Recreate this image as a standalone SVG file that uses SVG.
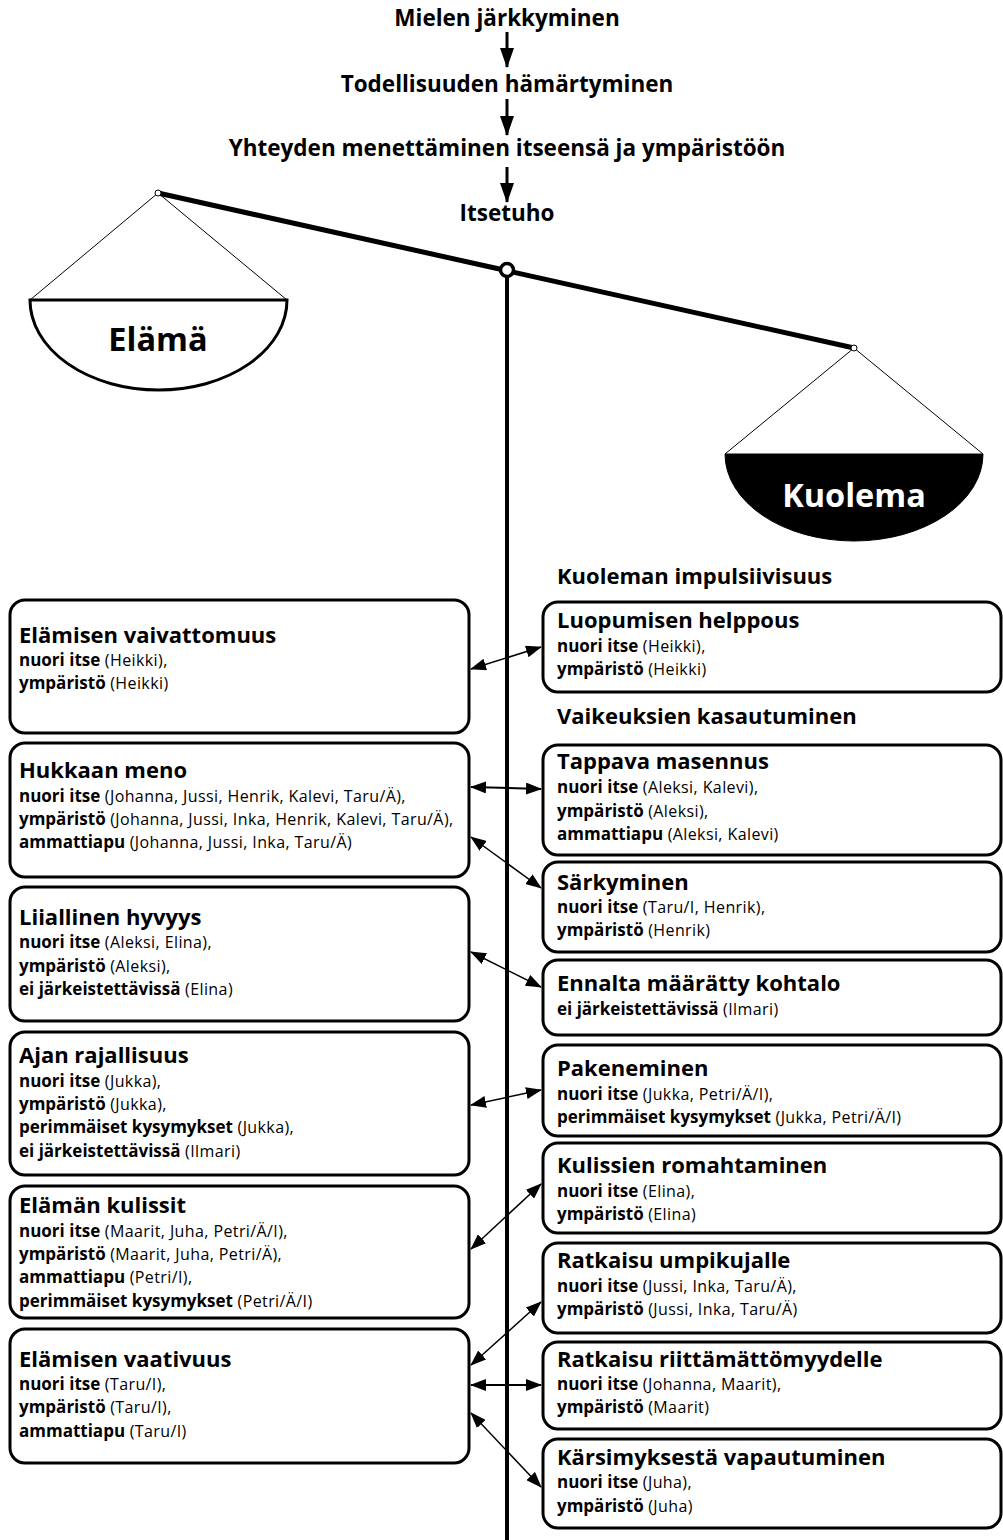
<svg xmlns="http://www.w3.org/2000/svg" width="1003" height="1540" viewBox="0 0 1003 1540">
<style>
text{font-family:"Open Sans","DejaVu Sans",sans-serif;fill:#000}
.h{font-size:22.5px;font-weight:700}
.t{font-size:22px;font-weight:700}
.l{font-size:16px;font-weight:400;letter-spacing:0.4px}
.b{font-size:17px;font-weight:700;letter-spacing:0}
.pan{font-size:32.5px;font-weight:700}
.box{fill:#fff;stroke:#000;stroke-width:3}
.conn{stroke:#000;stroke-width:1.5;fill:none;marker-start:url(#ah);marker-end:url(#ah)}
.flow{stroke:#000;stroke-width:3;fill:none;marker-end:url(#fa)}
</style>
<defs>
<marker id="ah" viewBox="0 0 16 12" refX="15" refY="6" markerWidth="16" markerHeight="12" markerUnits="userSpaceOnUse" orient="auto-start-reverse"><path d="M0,0 L16,6 L0,12 z" fill="#000"/></marker>
<marker id="fa" viewBox="0 0 20 14" refX="19" refY="7" markerWidth="20" markerHeight="14" markerUnits="userSpaceOnUse" orient="auto"><path d="M0,0 L20,7 L0,14 z" fill="#000"/></marker>
</defs>
<rect width="1003" height="1540" fill="#fff"/>

<!-- top chain -->
<g id="chain">
<text class="h" x="507" y="26" text-anchor="middle">Mielen järkkyminen</text>
<text class="h" x="507" y="92" text-anchor="middle">Todellisuuden hämärtyminen</text>
<text class="h" x="507" y="156" text-anchor="middle">Yhteyden menettäminen itseensä ja ympäristöön</text>
<text class="h" x="507" y="221" text-anchor="middle">Itsetuho</text>
</g>
<g id="chain-arrows">
<line class="flow" x1="507" y1="32" x2="507" y2="67"/>
<line class="flow" x1="507" y1="99" x2="507" y2="135"/>
<line class="flow" x1="507" y1="167" x2="507" y2="202"/>
</g>

<!-- scale -->
<g id="scale">
<line x1="507" y1="276" x2="507" y2="1540" stroke="#000" stroke-width="4"/>
<line x1="158" y1="193" x2="854" y2="348" stroke="#000" stroke-width="5"/>
<circle cx="507" cy="270" r="6.5" fill="#fff" stroke="#000" stroke-width="3.5"/>
</g>
<g id="pan-elama">
<line x1="158" y1="193" x2="30" y2="300" stroke="#000" stroke-width="1"/>
<line x1="158" y1="193" x2="287" y2="300" stroke="#000" stroke-width="1"/>
<path d="M30,300 A128.5,90 0 0 0 287,300 Z" fill="#fff" stroke="#000" stroke-width="3"/>
<circle cx="158" cy="193" r="3" fill="#fff" stroke="#000" stroke-width="1"/>
<text class="pan" x="158" y="351" text-anchor="middle">Elämä</text>
</g>
<g id="pan-kuolema">
<line x1="854" y1="348" x2="725" y2="454" stroke="#000" stroke-width="1"/>
<line x1="854" y1="348" x2="983" y2="454" stroke="#000" stroke-width="1"/>
<path d="M725,454 A129,87 0 0 0 983,454 Z" fill="#000" stroke="#000" stroke-width="1"/>
<circle cx="854" cy="348" r="3" fill="#fff" stroke="#000" stroke-width="1"/>
<text class="pan" x="854" y="507" text-anchor="middle" style="fill:#fff">Kuolema</text>
</g>

<!-- headers -->
<text class="t" x="557" y="584">Kuoleman impulsiivisuus</text>
<text class="t" x="557" y="724">Vaikeuksien kasautuminen</text>

<!-- left nodes -->
<g id="l1">
<rect class="box" x="10" y="600" width="459" height="133" rx="15"/>
<text class="t" x="19" y="643">Elämisen vaivattomuus</text>
<text class="l" x="19" y="666"><tspan class="b">nuori itse</tspan> (Heikki),</text>
<text class="l" x="19" y="689"><tspan class="b">ympäristö</tspan> (Heikki)</text>
</g>
<g id="l2">
<rect class="box" x="10" y="743" width="459" height="134" rx="15"/>
<text class="t" x="19" y="778">Hukkaan meno</text>
<text class="l" x="19" y="802"><tspan class="b">nuori itse</tspan> (Johanna, Jussi, Henrik, Kalevi, Taru/Ä),</text>
<text class="l" x="19" y="825"><tspan class="b">ympäristö</tspan> (Johanna, Jussi, Inka, Henrik, Kalevi, Taru/Ä),</text>
<text class="l" x="19" y="848"><tspan class="b">ammattiapu</tspan> (Johanna, Jussi, Inka, Taru/Ä)</text>
</g>
<g id="l3">
<rect class="box" x="10" y="887" width="459" height="134" rx="15"/>
<text class="t" x="19" y="925">Liiallinen hyvyys</text>
<text class="l" x="19" y="948"><tspan class="b">nuori itse</tspan> (Aleksi, Elina),</text>
<text class="l" x="19" y="972"><tspan class="b">ympäristö</tspan> (Aleksi),</text>
<text class="l" x="19" y="995"><tspan class="b">ei järkeistettävissä</tspan> (Elina)</text>
</g>
<g id="l4">
<rect class="box" x="10" y="1032" width="459" height="143" rx="15"/>
<text class="t" x="19" y="1063">Ajan rajallisuus</text>
<text class="l" x="19" y="1087"><tspan class="b">nuori itse</tspan> (Jukka),</text>
<text class="l" x="19" y="1110"><tspan class="b">ympäristö</tspan> (Jukka),</text>
<text class="l" x="19" y="1133"><tspan class="b">perimmäiset kysymykset</tspan> (Jukka),</text>
<text class="l" x="19" y="1157"><tspan class="b">ei järkeistettävissä</tspan> (Ilmari)</text>
</g>
<g id="l5">
<rect class="box" x="10" y="1186" width="459" height="132" rx="15"/>
<text class="t" x="19" y="1213">Elämän kulissit</text>
<text class="l" x="19" y="1237"><tspan class="b">nuori itse</tspan> (Maarit, Juha, Petri/Ä/I),</text>
<text class="l" x="19" y="1260"><tspan class="b">ympäristö</tspan> (Maarit, Juha, Petri/Ä),</text>
<text class="l" x="19" y="1283"><tspan class="b">ammattiapu</tspan> (Petri/I),</text>
<text class="l" x="19" y="1307"><tspan class="b">perimmäiset kysymykset</tspan> (Petri/Ä/I)</text>
</g>
<g id="l6">
<rect class="box" x="10" y="1329" width="459" height="134" rx="15"/>
<text class="t" x="19" y="1367">Elämisen vaativuus</text>
<text class="l" x="19" y="1390"><tspan class="b">nuori itse</tspan> (Taru/I),</text>
<text class="l" x="19" y="1413"><tspan class="b">ympäristö</tspan> (Taru/I),</text>
<text class="l" x="19" y="1437"><tspan class="b">ammattiapu</tspan> (Taru/I)</text>
</g>

<!-- right nodes -->
<g id="r1">
<rect class="box" x="543" y="602" width="458" height="90" rx="15"/>
<text class="t" x="557" y="628">Luopumisen helppous</text>
<text class="l" x="557" y="652"><tspan class="b">nuori itse</tspan> (Heikki),</text>
<text class="l" x="557" y="675"><tspan class="b">ympäristö</tspan> (Heikki)</text>
</g>
<g id="r2">
<rect class="box" x="543" y="745" width="458" height="110" rx="15"/>
<text class="t" x="557" y="769">Tappava masennus</text>
<text class="l" x="557" y="793"><tspan class="b">nuori itse</tspan> (Aleksi, Kalevi),</text>
<text class="l" x="557" y="817"><tspan class="b">ympäristö</tspan> (Aleksi),</text>
<text class="l" x="557" y="840"><tspan class="b">ammattiapu</tspan> (Aleksi, Kalevi)</text>
</g>
<g id="r3">
<rect class="box" x="543" y="862" width="458" height="90" rx="15"/>
<text class="t" x="557" y="890">Särkyminen</text>
<text class="l" x="557" y="913"><tspan class="b">nuori itse</tspan> (Taru/I, Henrik),</text>
<text class="l" x="557" y="936"><tspan class="b">ympäristö</tspan> (Henrik)</text>
</g>
<g id="r4">
<rect class="box" x="543" y="960" width="458" height="75" rx="15"/>
<text class="t" x="557" y="991">Ennalta määrätty kohtalo</text>
<text class="l" x="557" y="1015"><tspan class="b">ei järkeistettävissä</tspan> (Ilmari)</text>
</g>
<g id="r5">
<rect class="box" x="543" y="1045" width="458" height="91" rx="15"/>
<text class="t" x="557" y="1076">Pakeneminen</text>
<text class="l" x="557" y="1100"><tspan class="b">nuori itse</tspan> (Jukka, Petri/Ä/I),</text>
<text class="l" x="557" y="1123"><tspan class="b">perimmäiset kysymykset</tspan> (Jukka, Petri/Ä/I)</text>
</g>
<g id="r6">
<rect class="box" x="543" y="1143" width="458" height="90" rx="15"/>
<text class="t" x="557" y="1173">Kulissien romahtaminen</text>
<text class="l" x="557" y="1197"><tspan class="b">nuori itse</tspan> (Elina),</text>
<text class="l" x="557" y="1220"><tspan class="b">ympäristö</tspan> (Elina)</text>
</g>
<g id="r7">
<rect class="box" x="543" y="1243" width="458" height="90" rx="15"/>
<text class="t" x="557" y="1268">Ratkaisu umpikujalle</text>
<text class="l" x="557" y="1292"><tspan class="b">nuori itse</tspan> (Jussi, Inka, Taru/Ä),</text>
<text class="l" x="557" y="1315"><tspan class="b">ympäristö</tspan> (Jussi, Inka, Taru/Ä)</text>
</g>
<g id="r8">
<rect class="box" x="543" y="1342" width="458" height="87" rx="15"/>
<text class="t" x="557" y="1367">Ratkaisu riittämättömyydelle</text>
<text class="l" x="557" y="1390"><tspan class="b">nuori itse</tspan> (Johanna, Maarit),</text>
<text class="l" x="557" y="1413"><tspan class="b">ympäristö</tspan> (Maarit)</text>
</g>
<g id="r9">
<rect class="box" x="543" y="1439" width="458" height="89" rx="15"/>
<text class="t" x="557" y="1465">Kärsimyksestä vapautuminen</text>
<text class="l" x="557" y="1488"><tspan class="b">nuori itse</tspan> (Juha),</text>
<text class="l" x="557" y="1512"><tspan class="b">ympäristö</tspan> (Juha)</text>
</g>

<!-- connectors -->
<g id="connectors">
<line class="conn" x1="471" y1="669" x2="541" y2="647"/>
<line class="conn" x1="471" y1="787" x2="541" y2="789" style="stroke-width:2"/>
<line class="conn" x1="471" y1="837" x2="541" y2="888"/>
<line class="conn" x1="471" y1="952" x2="541" y2="987"/>
<line class="conn" x1="471" y1="1105" x2="541" y2="1090"/>
<line class="conn" x1="471" y1="1249" x2="541" y2="1184"/>
<line class="conn" x1="471" y1="1365" x2="541" y2="1302"/>
<line class="conn" x1="471" y1="1385" x2="541" y2="1385" style="stroke-width:2"/>
<line class="conn" x1="471" y1="1413" x2="541" y2="1487"/>
</g>
</svg>
